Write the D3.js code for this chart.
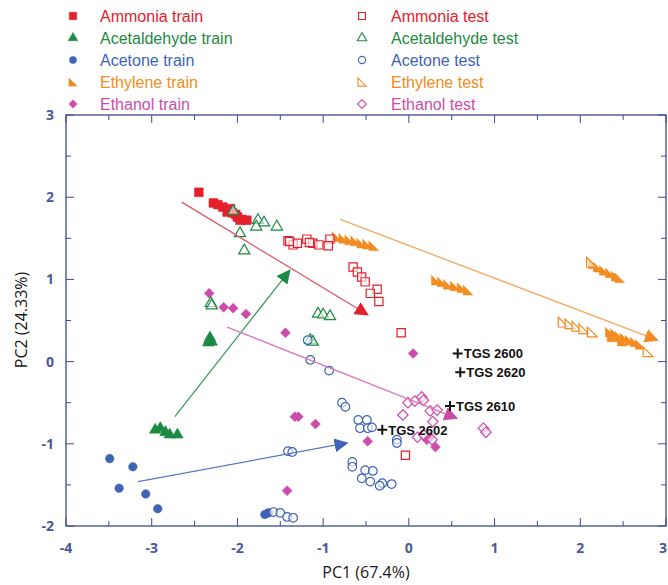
<!DOCTYPE html>
<html>
<head>
<meta charset="utf-8">
<script src="https://cdn.jsdelivr.net/npm/d3@7"></script>
<style>
  body { margin: 0; background: #fff; }
  svg { display: block; }
  .tick-label { font-family: "Open Sans", "Liberation Sans", sans-serif; font-weight: bold; font-size: 14px; fill: #4a5899; }
  .axis-title { font-family: "Open Sans", "Liberation Sans", sans-serif; font-size: 16px; fill: #1a1a1a; }
  .legend-text { font-family: "Liberation Sans", Arial, sans-serif; font-size: 16px; }
  .tgs { font-family: "Liberation Sans", Arial, sans-serif; font-weight: bold; font-size: 13px; fill: #111; }
</style>
</head>
<body>
<svg id="chart" width="668" height="585"></svg>
<script>
// PCA scores of the gas sensor array (train vs test)

const ammoniaTrain = [[-2.45, 2.06], [-2.28, 1.93], [-2.23, 1.91], [-2.17, 1.88], [-2.12, 1.82], [-2.06, 1.81],
  [-2.0, 1.76], [-1.97, 1.72], [-1.95, 1.73], [-1.89, 1.72], [-2.08, 1.86], [-2.02, 1.79]];
const ammoniaTest = [[-1.41, 1.47], [-1.35, 1.42], [-1.39, 1.46], [-1.19, 1.49], [-1.12, 1.44], [-1.05, 1.42],
  [-0.92, 1.49], [-0.94, 1.41], [-1.3, 1.44], [-1.16, 1.45], [-0.65, 1.15], [-0.6, 1.09], [-0.55, 1.03],
  [-0.51, 0.97], [-0.37, 0.88], [-0.45, 0.83], [-0.35, 0.73], [-0.09, 0.35], [-0.04, -1.14]];
const acetaldehydeTrain = [[-2.33, 0.26], [-2.32, 0.29], [-2.3, 0.24], [-2.34, 0.23], [-2.96, -0.83],
  [-2.9, -0.81], [-2.84, -0.86], [-2.79, -0.89], [-2.7, -0.89]];
const acetaldehydeTest = [[-2.05, 1.83], [-1.76, 1.72], [-1.69, 1.69], [-1.78, 1.64], [-1.54, 1.64],
  [-1.97, 1.56], [-1.92, 1.35], [-2.31, 0.71], [-2.3, 0.68], [-1.06, 0.58], [-1.0, 0.57], [-0.92, 0.55],
  [-1.15, 0.26], [-1.12, 0.24]];
const acetoneTrain = [[-3.49, -1.18], [-3.22, -1.28], [-3.38, -1.54], [-3.07, -1.61], [-2.93, -1.79],
  [-1.68, -1.86], [-1.64, -1.84]];
const acetoneTest = [[-1.58, -1.83], [-1.5, -1.84], [-1.42, -1.89], [-1.35, -1.9], [-1.41, -1.09],
  [-1.36, -1.1], [-1.18, 0.26], [-1.15, 0.02], [-0.93, -0.11], [-0.78, -0.5], [-0.74, -0.55], [-0.59, -0.71],
  [-0.49, -0.71], [-0.57, -0.81], [-0.48, -0.81], [-0.43, -0.8], [-0.14, -0.95], [-0.14, -0.99],
  [-0.66, -1.22], [-0.66, -1.28], [-0.51, -1.32], [-0.42, -1.33], [-0.55, -1.42], [-0.45, -1.46],
  [-0.31, -1.48], [-0.2, -1.49], [-0.34, -1.51]];
const ethyleneTrain = [[-0.84, 1.52], [-0.76, 1.5], [-0.69, 1.48], [-0.62, 1.47], [-0.55, 1.44], [-0.48, 1.43],
  [-0.41, 1.41], [0.32, 0.99], [0.39, 0.97], [0.46, 0.94], [0.54, 0.92], [0.62, 0.9], [0.69, 0.87],
  [2.15, 1.19], [2.21, 1.15], [2.28, 1.11], [2.35, 1.08], [2.42, 1.04], [2.46, 1.02],
  [2.35, 0.36], [2.41, 0.34], [2.46, 0.31], [2.52, 0.29], [2.58, 0.26], [2.64, 0.24], [2.7, 0.21],
  [2.37, 0.3], [2.49, 0.25]];
const ethyleneTest = [[2.13, 1.21], [1.8, 0.48], [1.88, 0.46], [1.96, 0.43], [2.04, 0.4], [2.14, 0.36], [2.79, 0.12]];
const ethanolTrain = [[-2.33, 0.83], [-2.16, 0.66], [-2.05, 0.65], [-1.9, 0.58], [-1.44, 0.35], [0.05, 0.1],
  [-1.33, -0.67], [-1.29, -0.67], [-1.09, -0.76], [-0.48, -0.97], [-1.42, -1.57], [0.21, -0.95],
  [0.25, -0.92], [0.31, -1.04]];
const ethanolTest = [[-0.07, -0.65], [-0.01, -0.5], [0.07, -0.48], [0.15, -0.43], [0.17, -0.47], [0.25, -0.6],
  [0.33, -0.59], [0.28, -0.73], [0.1, -0.92], [0.17, -0.89], [0.27, -0.95], [0.87, -0.81], [0.9, -0.86]];

// drift arrows: [start, end]
const arrows = [
  { gas: 'ammonia', from: [-2.65, 1.94], to: [-0.48, 0.57] },
  { gas: 'acetaldehyde', from: [-2.73, -0.67], to: [-1.39, 1.11] },
  { gas: 'acetone', from: [-3.16, -1.46], to: [-0.72, -0.99] },
  { gas: 'ethylene', from: [-0.8, 1.73], to: [2.9, 0.26] },
  { gas: 'ethanol', from: [-2.12, 0.42], to: [0.56, -0.69] },
];

const sensorNames = ['TGS 2600', 'TGS 2620', 'TGS 2610', 'TGS 2602'];
const sensorPos = [[0.57, 0.1], [0.6, -0.13], [0.48, -0.54], [-0.31, -0.83]];

const xTicks = [-4, -3, -2, -1, 0, 1, 2, 3];
const yTicks = [-2, -1, 0, 1, 2, 3];

const colors = {
  ammonia: '#e3202c', acetaldehyde: '#1d8a43', acetone: '#3f63b5', ethylene: '#f28c22', ethanol: '#cc4cab',
};
const lineColors = {
  ammonia: '#de5a6a', acetaldehyde: '#3e9a62', acetone: '#5a78c0', ethylene: '#f2a860', ethanol: '#d877c2',
};

const series = [
  { gas: 'ammonia', label: 'Ammonia train', shape: 'square', filled: true, data: ammoniaTrain },
  { gas: 'acetaldehyde', label: 'Acetaldehyde train', shape: 'triangle', filled: true, data: acetaldehydeTrain },
  { gas: 'acetone', label: 'Acetone train', shape: 'circle', filled: true, data: acetoneTrain },
  { gas: 'ethylene', label: 'Ethylene train', shape: 'half', filled: true, data: ethyleneTrain },
  { gas: 'ethanol', label: 'Ethanol train', shape: 'diamond', filled: true, data: ethanolTrain },
  { gas: 'ammonia', label: 'Ammonia test', shape: 'square', filled: false, data: ammoniaTest },
  { gas: 'acetaldehyde', label: 'Acetaldehyde test', shape: 'triangle', filled: false, data: acetaldehydeTest },
  { gas: 'acetone', label: 'Acetone test', shape: 'circle', filled: false, data: acetoneTest },
  { gas: 'ethylene', label: 'Ethylene test', shape: 'half', filled: false, data: ethyleneTest },
  { gas: 'ethanol', label: 'Ethanol test', shape: 'diamond', filled: false, data: ethanolTest },
];

const svg = d3.select('#chart');
const m = { left: 66, right: 2, top: 115, bottom: 59 };
const W = 668, H = 585;
const x = d3.scaleLinear().domain([-4, 3]).range([m.left, W - m.right]);
const y = d3.scaleLinear().domain([-2, 3]).range([H - m.bottom, m.top]);

// right-angle triangle used for ethylene
const halfTri = {
  draw(ctx, size) {
    const s = Math.sqrt(size) / 2;
    ctx.moveTo(-s, -s); ctx.lineTo(s, s); ctx.lineTo(-s, s); ctx.closePath();
  }
};
// squat diamond (rotated square)
const diamond = {
  draw(ctx, size) {
    const s = Math.sqrt(size) / 2;
    ctx.moveTo(0, -s); ctx.lineTo(s, 0); ctx.lineTo(0, s); ctx.lineTo(-s, 0); ctx.closePath();
  }
};
function symbolPath(shape, filled, scale = 1) {
  const sizes = { square: filled ? 78 : 68, triangle: filled ? 58 : 55, circle: 58, diamond: filled ? 100 : 110, half: 95 };
  const types = { square: d3.symbolSquare, triangle: d3.symbolTriangle, circle: d3.symbolCircle, diamond: diamond, half: halfTri };
  return d3.symbol().type(types[shape]).size(sizes[shape] * scale)();
}

// frame & ticks
const axisColor = '#3c4a92';
const gAxis = svg.append('g');
gAxis.append('rect').attr('x', x(-4)).attr('y', y(3)).attr('width', x(3) - x(-4)).attr('height', y(-2) - y(3))
  .attr('fill', 'none').attr('stroke', axisColor).attr('stroke-width', 1.3);

const xAll = d3.range(-4, 3.01, 0.5);
const yAll = d3.range(-2, 3.01, 0.5);
xAll.forEach((v) => {
  const len = Number.isInteger(v) ? 8 : 5;
  gAxis.append('line').attr('x1', x(v)).attr('x2', x(v)).attr('y1', y(-2)).attr('y2', y(-2) - len).attr('stroke', axisColor);
  gAxis.append('line').attr('x1', x(v)).attr('x2', x(v)).attr('y1', y(3)).attr('y2', y(3) + len).attr('stroke', axisColor);
});
yAll.forEach((v) => {
  const len = Number.isInteger(v) ? 8 : 5;
  gAxis.append('line').attr('y1', y(v)).attr('y2', y(v)).attr('x1', x(-4)).attr('x2', x(-4) + len).attr('stroke', axisColor);
  gAxis.append('line').attr('y1', y(v)).attr('y2', y(v)).attr('x1', x(3)).attr('x2', x(3) - len).attr('stroke', axisColor);
});
gAxis.selectAll('text.xl').data(xTicks).join('text').attr('class', 'tick-label')
  .attr('x', (d) => (d === 3 ? W - 1 : x(d))).attr('y', y(-2) + 27)
  .attr('text-anchor', (d) => (d === 3 ? 'end' : 'middle')).text((d) => d);
gAxis.selectAll('text.yl').data(yTicks).join('text').attr('class', 'tick-label')
  .attr('x', x(-4) - 12).attr('y', (d) => y(d) + 5).attr('text-anchor', 'end').text((d) => d);

svg.append('text').attr('class', 'axis-title').attr('x', 366).attr('y', 578).attr('text-anchor', 'middle').text('PC1 (67.4%)');
svg.append('text').attr('class', 'axis-title').attr('transform', 'translate(27,320) rotate(-90)')
  .attr('text-anchor', 'middle').text('PC2 (24.33%)');

// arrowheads
const defs = svg.append('defs');
Object.keys(colors).forEach((k) => {
  defs.append('marker').attr('id', 'arr-' + k).attr('viewBox', '0 0 10 10').attr('refX', 9).attr('refY', 5)
    .attr('markerWidth', 14).attr('markerHeight', 14).attr('markerUnits', 'userSpaceOnUse').attr('orient', 'auto')
    .append('path').attr('d', 'M0,0L10,5L0,10Z').attr('fill', colors[k]);
});

// points
const gPts = svg.append('g');
series.forEach((s) => {
  gPts.append('g').selectAll('path').data(s.data).join('path')
    .attr('transform', (d) => `translate(${x(d[0])},${y(d[1])})`)
    .attr('d', symbolPath(s.shape, s.filled))
    .attr('fill', s.filled ? colors[s.gas] : '#fff')
    .attr('fill-opacity', s.filled ? 1 : 0.6)
    .attr('stroke', colors[s.gas])
    .attr('stroke-width', s.filled ? 0.5 : 1.2);
});

svg.append('g').selectAll('line').data(arrows).join('line')
  .attr('x1', (d) => x(d.from[0])).attr('y1', (d) => y(d.from[1]))
  .attr('x2', (d) => x(d.to[0])).attr('y2', (d) => y(d.to[1]))
  .attr('stroke', (d) => lineColors[d.gas]).attr('stroke-width', 1.3)
  .attr('marker-end', (d) => `url(#arr-${d.gas})`);

// sensor loadings
const gS = svg.append('g');
sensorNames.forEach((name, i) => {
  const px = x(sensorPos[i][0]), py = y(sensorPos[i][1]);
  gS.append('path').attr('d', `M${px - 5},${py}H${px + 5}M${px},${py - 5}V${py + 5}`).attr('stroke', '#111').attr('stroke-width', 2);
  gS.append('text').attr('class', 'tgs').attr('x', px + 6).attr('y', py + 5).text(name);
});

// legend
const leg = svg.append('g');
series.forEach((s, i) => {
  const col = i < 5 ? 0 : 1;
  const row = i % 5;
  const mx = col === 0 ? 73 : 362;
  const ty = 16 + row * 22;
  leg.append('path').attr('transform', `translate(${mx},${ty})`).attr('d', symbolPath(s.shape, s.filled, 0.7))
    .attr('fill', s.filled ? colors[s.gas] : '#fff').attr('stroke', colors[s.gas]).attr('stroke-width', s.filled ? 0.5 : 1.1);
  leg.append('text').attr('class', 'legend-text').attr('x', mx + (col === 0 ? 27 : 29)).attr('y', ty + 6)
    .attr('fill', colors[s.gas]).text(s.label);
});
</script>
</body>
</html>
